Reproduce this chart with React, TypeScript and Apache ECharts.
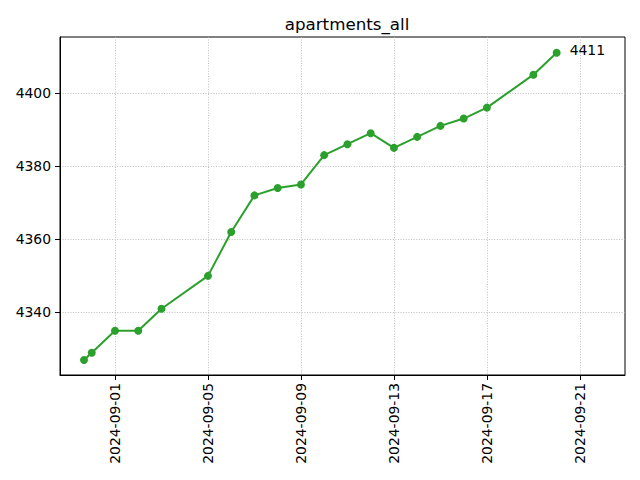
import React, { useEffect, useRef } from "react";
import * as echarts from "echarts";

const dates = [
  "2024-08-30T16:00:00Z", "2024-08-31T00:00:00Z", "2024-09-01T00:00:00Z", "2024-09-02T00:00:00Z",
  "2024-09-03T00:00:00Z", "2024-09-05T00:00:00Z", "2024-09-06T00:00:00Z", "2024-09-07T00:00:00Z",
  "2024-09-08T00:00:00Z", "2024-09-09T00:00:00Z", "2024-09-10T00:00:00Z", "2024-09-11T00:00:00Z",
  "2024-09-12T00:00:00Z", "2024-09-13T00:00:00Z", "2024-09-14T00:00:00Z", "2024-09-15T00:00:00Z",
  "2024-09-16T00:00:00Z", "2024-09-17T00:00:00Z", "2024-09-19T00:00:00Z", "2024-09-20T00:00:00Z",
];
const values = [
  4327, 4329, 4335, 4335, 4341, 4350, 4362, 4372, 4374, 4375,
  4383, 4386, 4389, 4385, 4388, 4391, 4393, 4396, 4405, 4411,
];
const xTicks = [
  "2024-09-01T00:00:00Z", "2024-09-05T00:00:00Z", "2024-09-09T00:00:00Z",
  "2024-09-13T00:00:00Z", "2024-09-17T00:00:00Z", "2024-09-21T00:00:00Z",
];
const yTicks = [4340, 4360, 4380, 4400];
const xMin = "2024-08-29T15:13:00Z";
const xMax = "2024-09-22T22:34:00Z";
const yMin = 4322.9;
const yMax = 4415.3;
const title = "apartments_all";

export default function App() {
  const ref = useRef<HTMLDivElement>(null);
  useEffect(() => {
    if (!ref.current) return;
    const chart = echarts.init(ref.current, undefined, { renderer: "svg" });
    const font = "DejaVu Sans";
    const data = dates.map((d, i) => {
      const item: any = { value: [Date.parse(d), values[i]] };
      if (i === dates.length - 1) {
        item.label = {
          show: true,
          position: "right",
          distance: 9,
          offset: [0, -3],
          formatter: String(values[i]),
          color: "#000",
          fontFamily: font,
          fontSize: 13.9,
        };
      }
      return item;
    });
    const split = { show: true, lineStyle: { color: "#b0b0b0", width: 0.8, type: [1, 1.6] as any } };
    chart.setOption({
      animation: false,
      backgroundColor: "#fff",
      title: {
        text: title,
        left: 342,
        textAlign: "center",
        top: 10,
        textStyle: { fontFamily: font, fontSize: 16.7, fontWeight: "normal", color: "#000" },
      },
      grid: {
        left: 60, right: 15, top: 37, bottom: 105,
        show: true, borderColor: "#000", borderWidth: 1, backgroundColor: "transparent",
      },
      xAxis: {
        type: "value",
        min: Date.parse(xMin),
        max: Date.parse(xMax),
        axisLine: { show: true, lineStyle: { color: "#000", width: 1 } },
        axisTick: {
          show: true, inside: false, length: 5, lineStyle: { color: "#000" },
          customValues: xTicks.map((d) => Date.parse(d)),
        },
        axisLabel: {
          rotate: 90,
          margin: 8,
          color: "#000",
          fontFamily: font,
          fontSize: 13.9,
          customValues: xTicks.map((d) => Date.parse(d)),
          formatter: (v: number) => new Date(v).toISOString().slice(0, 10),
        },
        splitLine: split,
      },
      yAxis: {
        type: "value",
        min: yMin,
        max: yMax,
        axisLine: { show: true, lineStyle: { color: "#000", width: 1 } },
        axisTick: {
          show: true, inside: false, length: 5, lineStyle: { color: "#000" },
          customValues: yTicks,
        },
        axisLabel: {
          margin: 9,
          color: "#000",
          fontFamily: font,
          fontSize: 13.9,
          customValues: yTicks,
          formatter: (v: number) => String(v),
        },
        splitLine: split,
      },
      series: [
        {
          type: "line",
          data,
          symbol: "circle",
          symbolSize: 8,
          showSymbol: true,
          itemStyle: { color: "#2ca02c" },
          lineStyle: { color: "#2ca02c", width: 2 },
        },
      ],
    });
    return () => chart.dispose();
  }, []);
  return (
    <div
      ref={ref}
      style={{ position: "fixed", left: 0, top: 0, width: 640, height: 480 }}
    />
  );
}
